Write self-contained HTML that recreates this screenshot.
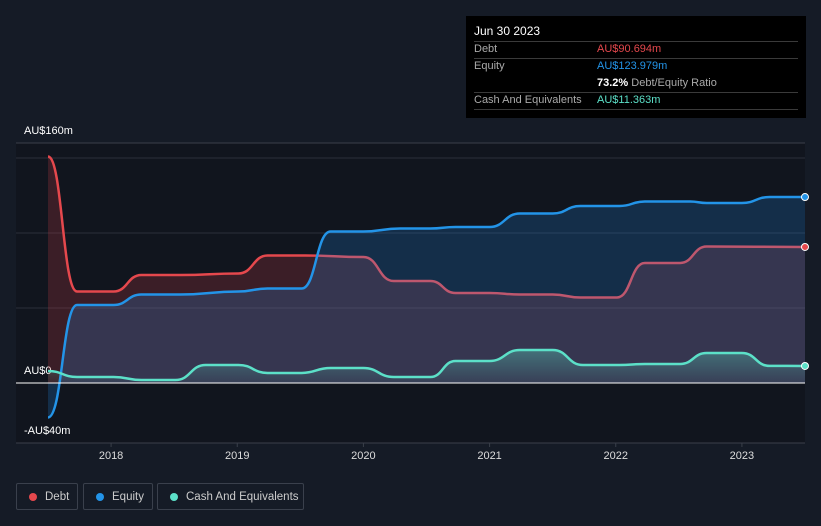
<!DOCTYPE html>
<html><head><meta charset="utf-8"><style>
html,body{margin:0;background:#151b26;width:821px;height:526px;overflow:hidden;font-family:"Liberation Sans",Arial,sans-serif}
svg{position:absolute;left:0;top:0}
.tt{position:absolute;left:466px;top:16px;width:340px;height:102px;background:#000;color:#fff;font-size:11px}
.tt div{position:absolute;white-space:nowrap}
.ln{position:absolute;left:8px;width:324px;height:1px;background:#3a3a3a}
.lab{left:8px;color:#aaa}
.val{left:131px}
.leg{position:absolute;top:483px;height:27px;border:1px solid #3a404c;border-radius:2px;color:#ccc;font-size:11.5px;line-height:26px;box-sizing:border-box;white-space:nowrap}
.leg i{position:absolute;left:12px;top:9px;width:8px;height:8px;border-radius:50%}
.leg span{position:absolute;left:28px}
</style></head><body>
<svg id="chart" width="821" height="526"></svg>
<div class="tt">
 <div style="left:8px;top:8px;font-size:12px">Jun 30 2023</div>
 <div class="ln" style="top:25px"></div>
 <div class="lab" style="top:27px">Debt</div>
 <div class="val" style="top:27px;color:#e5484d">AU$90.694m</div>
 <div class="ln" style="top:42px"></div>
 <div class="lab" style="top:44px">Equity</div>
 <div class="val" style="top:44px;color:#2394e8">AU$123.979m</div>
 <div class="val" style="top:61px;color:#aaa"><b style="color:#fff">73.2%</b> Debt/Equity Ratio</div>
 <div class="ln" style="top:76px"></div>
 <div class="lab" style="top:78px">Cash And Equivalents</div>
 <div class="val" style="top:78px;color:#5ce0c8">AU$11.363m</div>
 <div class="ln" style="top:93px"></div>
</div>
<div class="leg" style="left:16px;width:62px"><i style="background:#e5484d"></i><span>Debt</span></div>
<div class="leg" style="left:83px;width:70px"><i style="background:#2394e8"></i><span>Equity</span></div>
<div class="leg" style="left:157px;width:147px"><i style="background:#5ce0c8"></i><span>Cash And Equivalents</span></div>
<script>
const debtT=[2017.50,2017.73,2018.02,2018.24,2018.55,2019.01,2019.24,2019.54,2020.00,2020.24,2020.53,2020.73,2021.00,2021.24,2021.50,2021.72,2022.01,2022.23,2022.51,2022.72,2023.50];
const debtV=[151,61,61,72,72,73,85,85,84,68,68,60,60,59,59,57,57,80,80,91,90.694];
const eqT=[2017.50,2017.73,2018.02,2018.24,2018.55,2019.01,2019.24,2019.51,2019.74,2020.00,2020.29,2020.53,2020.73,2021.00,2021.24,2021.50,2021.72,2022.03,2022.23,2022.59,2022.72,2023.00,2023.22,2023.50];
const eqV=[-23,52,52,59,59,61,63,63,101,101,103,103,104,104,113,113,118,118,121,121,120,120,124,123.979];
const cashT=[2017.50,2017.73,2018.02,2018.24,2018.51,2018.75,2019.01,2019.24,2019.51,2019.74,2020.00,2020.24,2020.53,2020.73,2021.00,2021.24,2021.50,2021.74,2022.03,2022.23,2022.51,2022.72,2023.00,2023.22,2023.50];
const cashV=[8,4,4,2,2,12,12,6.7,6.7,10,10,4,4,14.7,14.7,22,22,12,12,12.7,12.7,20,20,11.4,11.363];
const yTicks=[160,0,-40];
const yTickLabels=["AU$160m","AU$0","-AU$40m"];
const gridVals=[150,100,50];
const years=[2018,2019,2020,2021,2022,2023];

const X=t=>48+(t-2017.5)*(805-48)/6;
const Y=v=>383-v*1.5;
const NS="http://www.w3.org/2000/svg";
const svg=document.getElementById('chart');
function mk(tag,at,name,parent){const e=document.createElementNS(NS,tag);for(const k in at)e.setAttribute(k,at[k]);


(parent||svg).appendChild(e);return e;}
function path(T,V){let d='M'+X(T[0])+','+Y(V[0]);for(let i=1;i<T.length;i++){const x0=X(T[i-1]),x1=X(T[i]),m=(x1-x0)/2;d+=` C${x0+m},${Y(V[i-1])} ${x1-m},${Y(V[i])} ${x1},${Y(V[i])}`;}return d;}
function area(T,V){return path(T,V)+` L${X(T[T.length-1])},${Y(0)} L${X(T[0])},${Y(0)} Z`;}
const defs=mk('defs',{},'defs');
defs.innerHTML='<linearGradient id="cg" x1="0" y1="0" x2="0" y2="1"><stop offset="0" stop-color="#5ce0c8" stop-opacity="0.35"/><stop offset="1" stop-color="#5ce0c8" stop-opacity="0.05"/></linearGradient>';
mk('rect',{x:16,y:143,width:789,height:300,fill:'#11151e'},'plot-area');
mk('line',{x1:16,x2:805,y1:Y(160),y2:Y(160),stroke:'#3a3f4a'},'gridline-top');
gridVals.forEach(v=>mk('line',{x1:16,x2:805,y1:Y(v),y2:Y(v),stroke:'#2a2f3a'},'gridline'));
mk('line',{x1:16,x2:805,y1:443,y2:443,stroke:'#3a3f4a'},'x-axis-line');
years.forEach(y=>{mk('line',{x1:X(y),x2:X(y),y1:443,y2:447,stroke:'#3a3f4a'},'x-tick');
const t=mk('text',{x:X(y),y:459,fill:'#ddd','font-size':11,'text-anchor':'middle'},'x-tick-label');t.textContent=y;});
yTicks.forEach((v,i)=>{const t=mk('text',{x:24,y:Y(v)-9,fill:'#fff','font-size':11},'y-tick-label');t.textContent=yTickLabels[i];});
mk('path',{d:area(debtT,debtV),fill:'rgba(229,72,77,0.2)'},'debt-area');
mk('path',{d:path(debtT,debtV),fill:'none',stroke:'#e5484d','stroke-width':2.5},'debt-line');
mk('path',{d:area(eqT,eqV),fill:'rgba(33,150,243,0.2)'},'equity-area');
mk('path',{d:path(eqT,eqV),fill:'none',stroke:'#2394e8','stroke-width':2.5},'equity-line');
mk('path',{d:area(cashT,cashV),fill:'url(#cg)'},'cash-area');
mk('path',{d:path(cashT,cashV),fill:'none',stroke:'#5ce0c8','stroke-width':2.5},'cash-line');
mk('line',{x1:16,x2:805,y1:Y(0),y2:Y(0),stroke:'#fff','stroke-width':1},'zero-line');
[[debtT,debtV,'#e5484d','debt-end-marker'],[eqT,eqV,'#2394e8','equity-end-marker'],[cashT,cashV,'#5ce0c8','cash-end-marker']].forEach(([T,V,c,n])=>mk('circle',{cx:X(T[T.length-1]),cy:Y(V[V.length-1]),r:3.5,fill:c,stroke:'#fff','stroke-width':1},n));
</script>
</body></html>
